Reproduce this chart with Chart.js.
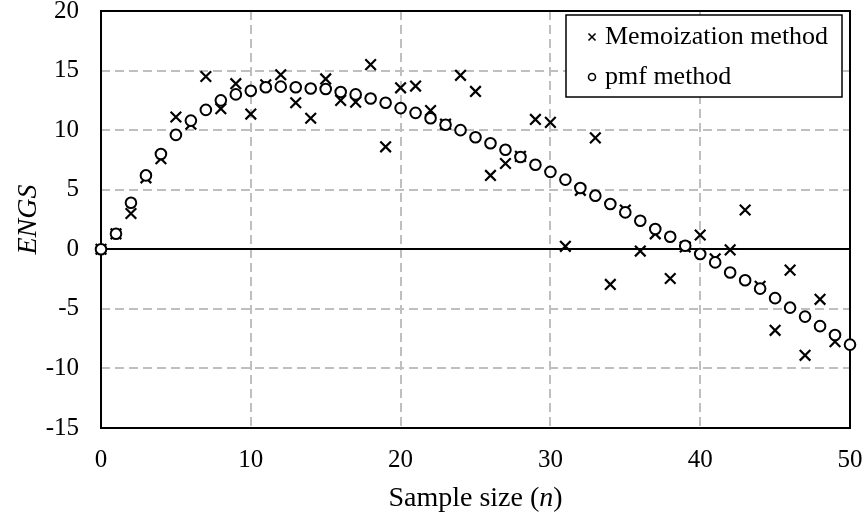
<!DOCTYPE html>
<html>
<head>
<meta charset="utf-8">
<script src="https://cdn.jsdelivr.net/npm/chart.js@4.4.1/dist/chart.umd.min.js"></script>
<style>
  html, body { margin: 0; padding: 0; background: #fff; }
  #wrap { width: 865px; height: 515px; }
</style>
</head>
<body>
<div id="wrap"><canvas id="c" width="865" height="515"></canvas></div>
<script>
// Sample sizes n = 0 … 50
const sampleSizes = [0, 1, 2, 3, 4, 5, 6, 7, 8, 9, 10, 11, 12, 13, 14, 15, 16, 17, 18, 19, 20,
  21, 22, 23, 24, 25, 26, 27, 28, 29, 30, 31, 32, 33, 34, 35, 36, 37, 38, 39, 40,
  41, 42, 43, 44, 45, 46, 47, 48, 49, 50];

// ENGS estimated by the memoization method (simulation, noisy)
const memoizationEngs = [0, 1.3, 3.0, 6.0, 7.6, 11.1, 10.5, 14.5, 11.8, 13.9, 11.35,
  13.8, 14.65, 12.3, 11.0, 14.3, 12.5, 12.35, 15.5, 8.6, 13.55,
  13.7, 11.65, 10.5, 14.6, 13.25, 6.2, 7.2, 7.8, 10.9, 10.65,
  0.25, 4.95, 9.35, -2.95, 3.3, -0.15, 1.3, -2.45, 0.2, 1.2,
  -0.8, -0.05, 3.3, -3.1, -6.8, -1.75, -8.9, -4.2, -7.75, null];

// ENGS computed by the pmf method (exact)
const pmfEngs = [0, 1.3, 3.9, 6.2, 8.0, 9.6, 10.8, 11.7, 12.5, 13.0, 13.3,
  13.6, 13.65, 13.6, 13.5, 13.45, 13.2, 13.0, 12.65, 12.3, 11.85,
  11.45, 11.0, 10.45, 10.0, 9.4, 8.9, 8.35, 7.75, 7.1, 6.5,
  5.85, 5.15, 4.5, 3.8, 3.1, 2.4, 1.7, 1.05, 0.3, -0.4,
  -1.1, -1.95, -2.6, -3.3, -4.1, -4.9, -5.65, -6.45, -7.2, -8.0];

const xTicks = [0, 10, 20, 30, 40, 50];
const yTicks = [-15, -10, -5, 0, 5, 10, 15, 20];

const seriesNames = ['Memoization method', 'pmf method'];
const xTitleParts = [['Sample size (', false], ['n', true], [')', false]];
const yTitle = 'ENGS';

const SERIF = '"Liberation Serif", "Times New Roman", serif';

function toPoints(values) {
  return sampleSizes.map((n, i) => ({ x: n, y: values[i] }));
}

// Fixed axis boxes: no extra room reserved for overhanging end labels
function fixBox(size, prop) {
  return (s) => {
    s[prop] = size;
    s.paddingLeft = s.paddingRight = s.paddingTop = s.paddingBottom = 0;
  };
}

// Frame, zero line, legend box and x-axis title
const decorations = {
  id: 'decorations',
  beforeDatasetsDraw(chart) {
    const { ctx, chartArea: a, scales } = chart;
    ctx.save();
    ctx.strokeStyle = '#000';
    ctx.lineWidth = 2;
    const y0 = Math.round(scales.y.getPixelForValue(0));
    ctx.beginPath();
    ctx.moveTo(a.left, y0);
    ctx.lineTo(a.right, y0);
    ctx.stroke();
    ctx.strokeRect(a.left, a.top, a.right - a.left, a.bottom - a.top);
    ctx.restore();
  },
  afterDatasetsDraw(chart) {
    const { ctx, chartArea: a } = chart;
    ctx.save();
    // legend
    const bx = 566, by = 15, bw = 276, bh = 82;
    ctx.fillStyle = '#fff';
    ctx.fillRect(bx, by, bw, bh);
    ctx.strokeStyle = '#000';
    ctx.lineWidth = 1.5;
    ctx.strokeRect(bx, by, bw, bh);
    const rows = [
      { ds: chart.data.datasets[0], y: 37, base: 44 },
      { ds: chart.data.datasets[1], y: 77, base: 84 }
    ];
    rows.forEach(r => {
      ctx.strokeStyle = '#000';
      ctx.fillStyle = '#fff';
      ctx.lineWidth = 1.6;
      Chart.helpers.drawPoint(ctx, {
        pointStyle: r.ds.pointStyle,
        radius: r.ds.pointStyle === 'circle' ? 3.5 : 5,
        rotation: 0,
        borderWidth: 1.6
      }, 592, r.y);
      ctx.fillStyle = '#000';
      ctx.font = '26px ' + SERIF;
      ctx.textAlign = 'left';
      ctx.textBaseline = 'alphabetic';
      ctx.fillText(r.ds.label, 605, r.base);
    });
    // x-axis title with italic n
    const size = 28;
    const widths = xTitleParts.map(([t, it]) => {
      ctx.font = (it ? 'italic ' : '') + size + 'px ' + SERIF;
      return ctx.measureText(t).width;
    });
    const total = widths.reduce((s, w) => s + w, 0);
    let x = (a.left + a.right) / 2 - total / 2;
    ctx.fillStyle = '#000';
    ctx.textBaseline = 'alphabetic';
    xTitleParts.forEach(([t, it], i) => {
      ctx.font = (it ? 'italic ' : '') + size + 'px ' + SERIF;
      ctx.fillText(t, x, 506);
      x += widths[i];
    });
    ctx.restore();
  }
};

const gridColor = (edgeValues) => (c) =>
  (c.tick && edgeValues.includes(c.tick.value)) ? 'rgba(0,0,0,0)' : '#bfbfbf';

new Chart(document.getElementById('c'), {
  type: 'scatter',
  data: {
    datasets: [
      {
        label: seriesNames[0],
        data: toPoints(memoizationEngs),
        pointStyle: 'crossRot',
        pointRadius: 7.5,
        pointHoverRadius: 7.5,
        pointBorderWidth: 2.2,
        borderColor: '#000',
        backgroundColor: '#000',
        showLine: false,
        clip: false,
        order: 2
      },
      {
        label: seriesNames[1],
        data: toPoints(pmfEngs),
        pointStyle: 'circle',
        pointRadius: 5.3,
        pointHoverRadius: 5.3,
        pointBorderWidth: 2,
        borderColor: '#000',
        backgroundColor: '#fff',
        showLine: false,
        clip: false,
        order: 1
      }
    ]
  },
  options: {
    responsive: false,
    animation: false,
    devicePixelRatio: 1,
    layout: { padding: { left: 0, right: 15, top: 11, bottom: 0 } },
    plugins: {
      legend: { display: false },
      tooltip: { enabled: false }
    },
    scales: {
      x: {
        type: 'linear',
        min: 0,
        max: 50,
        afterBuildTicks: (s) => { s.ticks = xTicks.map(v => ({ value: v })); },
        afterFit: fixBox(87, 'height'),
        ticks: {
          color: '#000',
          padding: 17,
          maxRotation: 0,
          font: { family: SERIF, size: 25 }
        },
        grid: {
          drawTicks: false,
          color: gridColor([0, 50]),
          lineWidth: 2
        },
        border: { display: false, dash: [9, 5] }
      },
      y: {
        type: 'linear',
        min: -15,
        max: 20,
        afterBuildTicks: (s) => { s.ticks = yTicks.map(v => ({ value: v })); },
        afterFit: fixBox(101, 'width'),
        ticks: {
          color: '#000',
          padding: 22,
          font: { family: SERIF, size: 25 }
        },
        grid: {
          drawTicks: false,
          color: gridColor([-15, 0, 20]),
          lineWidth: 2
        },
        border: { display: false, dash: [9, 5] },
        title: {
          display: true,
          text: yTitle,
          color: '#000',
          padding: { top: 12, bottom: 0 },
          font: { family: SERIF, size: 28, style: 'italic' }
        }
      }
    }
  },
  plugins: [decorations]
});
</script>
</body>
</html>
